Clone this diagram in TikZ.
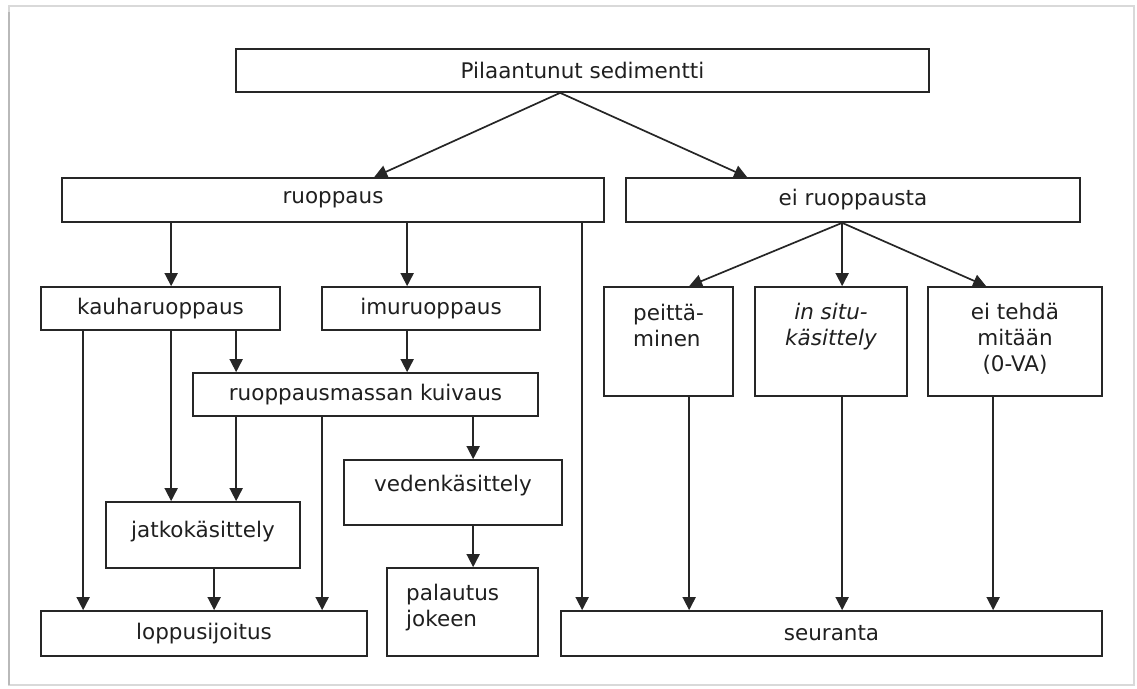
\documentclass[tikz,border=0pt]{standalone}
\usepackage{fontspec}
\setmainfont{DejaVu Sans}
\usetikzlibrary{arrows.meta}
\newcommand\myfs{\fontsize{21.5}{26}\selectfont}
\newcommand\firststrut{\rule{0pt}{20pt}}
\begin{document}
\begin{tikzpicture}[x=1pt,y=-1pt,
  bx/.style={draw=black!85, line width=1.7pt, inner sep=0pt, font=\myfs, text=black!88},
  tx/.style={inner sep=0pt, font=\myfs, text=black!88},
  arr/.style={draw=black!85, line width=1.7pt, -{Triangle[width=13pt,length=13pt]}},
  ln/.style={draw=black!85, line width=1.7pt}]
\useasboundingbox (0,0) rectangle (1137,688);
% frame
\draw[gray!30, line width=1.5pt] (9,6) rectangle (1134,685);
\draw[gray!55, line width=2.5pt] (9,12) -- (9,685);
% boxes
\node[bx, minimum width=693pt, minimum height=43pt] (top) at (582.5,70.5) {Pilaantunut sedimentti};
\node[bx, minimum width=542pt, minimum height=44pt] (ruop) at (333,200) {ruoppaus};
\node[bx, minimum width=454pt, minimum height=44pt] (eiruop) at (853,200) {ei ruoppausta};
\node[bx, minimum width=239pt, minimum height=43pt] (kauha) at (160.5,308.5) {kauharuoppaus};
\node[bx, minimum width=218pt, minimum height=43pt] (imu) at (431,308.5) {imuruoppaus};
\node[bx, minimum width=345pt, minimum height=43pt] (kuiv) at (365.5,394.5) {ruoppausmassan kuivaus};
\node[bx, minimum width=194pt, minimum height=66pt] (jatko) at (203,535) {};
\node[bx, minimum width=218pt, minimum height=65pt] (veden) at (453,492.5) {};
\node[bx, minimum width=151pt, minimum height=88pt] (palaut) at (462.5,612) {};
\node[bx, minimum width=326pt, minimum height=45pt] (loppu) at (204,633.5) {loppusijoitus};
\node[bx, minimum width=129pt, minimum height=109pt] (peitt) at (668.5,341.5) {};
\node[bx, minimum width=152pt, minimum height=109pt] (insitu) at (831,341.5) {};
\node[bx, minimum width=174pt, minimum height=109pt] (eiteh) at (1015,341.5) {};
\node[bx, minimum width=541pt, minimum height=45pt] (seur) at (831.5,633.5) {seuranta};
% texts in top-aligned boxes
\node[tx, anchor=north west, align=left] (tpeitt) at (633,300) {\firststrut peittä-\\minen};
\node[tx, anchor=north, align=center, font=\myfs\itshape] (tinsitu) at (831,299) {\firststrut in situ-\\käsittely};
\node[tx, anchor=north, align=center] (teiteh) at (1015,299) {\firststrut ei tehdä\\mitään\\(0-VA)};
\node[tx, anchor=north] (tveden) at (453,471) {\firststrut vedenkäsittely};
\node[tx, anchor=north] (tjatko) at (203,517) {\firststrut jatkokäsittely};
\node[tx, anchor=north west, align=left] (tpalaut) at (406,580) {\firststrut palautus\\jokeen};
% connectors
\draw[arr] ([xshift=325pt]top.south west) -- ([xshift=313pt]ruop.north west);
\draw[arr] ([xshift=325pt]top.south west) -- ([xshift=122pt]eiruop.north west);
\draw[arr] ([xshift=110pt]ruop.south west) -- ([xshift=131pt]kauha.north west);
\draw[arr] ([xshift=346pt]ruop.south west) -- ([xshift=86pt]imu.north west);
\draw[arr] ([xshift=521pt]ruop.south west) -- ([xshift=22pt]seur.north west);
\draw[arr] ([xshift=43pt]kauha.south west) -- ([xshift=43pt]loppu.north west);
\draw[arr] ([xshift=131pt]kauha.south west) -- ([xshift=66pt]jatko.north west);
\draw[arr] ([xshift=196pt]kauha.south west) -- ([xshift=44pt]kuiv.north west);
\draw[arr] ([xshift=86pt]imu.south west) -- ([xshift=215pt]kuiv.north west);
\draw[arr] ([xshift=44pt]kuiv.south west) -- ([xshift=131pt]jatko.north west);
\draw[arr] ([xshift=130pt]kuiv.south west) -- ([xshift=282pt]loppu.north west);
\draw[arr] ([xshift=281pt]kuiv.south west) -- ([xshift=130pt]veden.north west);
\draw[arr] ([xshift=109pt]jatko.south west) -- ([xshift=174pt]loppu.north west);
\draw[arr] ([xshift=130pt]veden.south west) -- ([xshift=87pt]palaut.north west);
\draw[arr] ([xshift=217pt]eiruop.south west) -- ([xshift=86pt]peitt.north west);
\draw[arr] ([xshift=217pt]eiruop.south west) -- ([xshift=88pt]insitu.north west);
\draw[arr] ([xshift=217pt]eiruop.south west) -- ([xshift=59pt]eiteh.north west);
\draw[arr] ([xshift=86pt]peitt.south west) -- ([xshift=129pt]seur.north west);
\draw[arr] ([xshift=88pt]insitu.south west) -- ([xshift=282pt]seur.north west);
\draw[arr] ([xshift=66pt]eiteh.south west) -- ([xshift=433pt]seur.north west);
\end{tikzpicture}
\end{document}
